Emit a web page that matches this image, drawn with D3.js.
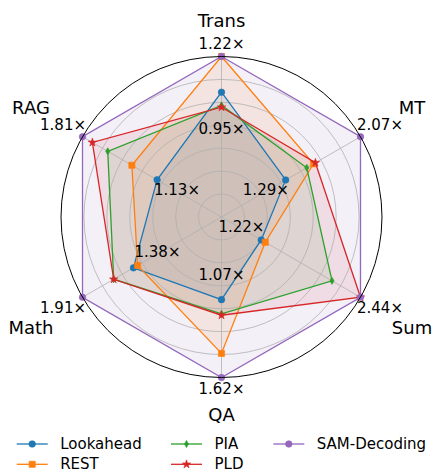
<!DOCTYPE html>
<html>
<head>
<meta charset="utf-8">
<script src="https://cdn.jsdelivr.net/npm/d3@7"></script>
<style>
  html, body { margin: 0; padding: 0; background: #fff; }
  svg { display: block; font-family: "DejaVu Sans", sans-serif; }
</style>
</head>
<body>
<svg id="chart" width="433" height="475"></svg>
<script>
// Speedup of each decoding method on each task
const categories = ["Trans", "MT", "Sum", "QA", "Math", "RAG"];
const seriesNames = ["Lookahead", "REST", "PIA", "PLD", "SAM-Decoding"];
const lookahead   = [1.03, 1.29, 1.22, 1.07, 1.42, 1.13];
const rest        = [1.22, 1.58, 1.27, 1.45, 1.38, 1.36];
const pia         = [0.96, 1.51, 2.09, 1.17, 1.61, 1.58];
const pld         = [0.95, 1.60, 2.44, 1.18, 1.61, 1.72];
const samDecoding = [1.22, 2.07, 2.44, 1.62, 1.91, 1.81];
const seriesValues = [lookahead, rest, pia, pld, samDecoding];
const colors  = ["#1f77b4", "#ff7f0e", "#2ca02c", "#d62728", "#9467bd"];
const markers = ["circle", "square", "diamond", "star", "circle"];

const svg = d3.select("#chart");
const cx = 221.5, cy = 217, R = 160.5;
const g = svg.append("g").attr("transform", `translate(${cx},${cy})`);

// Each task axis is scaled by its best speedup; the radial range is 0.3 .. 1.0 of it
const axisMax = categories.map((c, i) => d3.max(seriesValues, s => s[i]));
const axisMin = categories.map((c, i) => d3.min(seriesValues, s => s[i]));
const rNorm = d3.scaleLinear().domain([0.3, 1]).range([0, R]);
const axisScales = axisMax.map(m => d3.scaleLinear().domain([0.3 * m, m]).range([0, R]));

// Trans at the top, then clockwise
const angle = d3.scaleLinear().domain([0, categories.length]).range([Math.PI / 2, Math.PI / 2 - 2 * Math.PI]);
const pt = (r, i) => [r * Math.cos(angle(i)), -r * Math.sin(angle(i))];
const fmt = v => d3.format(".2f")(v) + "\u00d7";

// Series fills
const line = d3.line();
seriesValues.forEach((vals, s) => {
  const pts = vals.map((v, i) => pt(axisScales[i](v), i));
  g.append("path")
    .attr("d", line(pts) + "Z")
    .attr("fill", colors[s])
    .attr("fill-opacity", 0.1)
    .attr("stroke", "none");
});

// Grid rings and spokes
const grid = g.append("g");
rNorm.ticks(7).filter(t => t > 0.3 + 1e-9 && t < 1 - 1e-9).forEach(t => {
  grid.append("circle").attr("r", rNorm(t))
    .attr("fill", "none").attr("stroke", "#b0b0b0").attr("stroke-width", 0.8);
});
categories.forEach((c, i) => {
  const [x, y] = pt(R, i);
  grid.append("line").attr("x1", 0).attr("y1", 0).attr("x2", x).attr("y2", y)
    .attr("stroke", "#b0b0b0").attr("stroke-width", 0.8);
});

// Series outlines and markers
function marker(sel, type, color) {
  const sym = { circle: d3.symbolCircle, square: d3.symbolSquare, diamond: d3.symbolDiamond, star: d3.symbolStar }[type];
  const size = { circle: 34, square: 38, diamond: 15, star: 22 }[type];
  sel.append("path").attr("d", d3.symbol(sym, size)())
    .attr("fill", color).attr("stroke", color).attr("stroke-width", 0.6);
}
seriesValues.forEach((vals, s) => {
  const pts = vals.map((v, i) => pt(axisScales[i](v), i));
  g.append("path")
    .attr("d", line(pts) + "Z")
    .attr("fill", "none")
    .attr("stroke", colors[s])
    .attr("stroke-width", 1.3);
  pts.forEach(p => {
    const m = g.append("g").attr("transform", `translate(${p[0]},${p[1]})`);
    marker(m, markers[s], colors[s]);
  });
});

// Outer frame
g.append("circle").attr("r", R).attr("fill", "none").attr("stroke", "#000").attr("stroke-width", 1);

// Minimum-speedup labels inside, maximum-speedup labels outside the frame
categories.forEach((c, i) => {
  const rMin = rNorm(axisMin[i] / axisMax[i] - 0.1);
  const [x, y] = pt(rMin, i);
  g.append("text").attr("x", x).attr("y", y - 1.5)
    .attr("text-anchor", "middle").attr("dominant-baseline", "central")
    .attr("font-size", 15).attr("fill", "#000")
    .text(fmt(axisMin[i]));

  const s = Math.abs(Math.sin(angle(i)));
  const [mx, my] = pt(R + 12 + 21 * (1 - s), i);
  g.append("text").attr("x", mx).attr("y", my - 1)
    .attr("text-anchor", "middle").attr("dominant-baseline", "central")
    .attr("font-size", 15).attr("fill", "#000")
    .text(fmt(axisMax[i]));

  const [lx, ly] = pt(R + 36.5 + 46 * (1 - s), i);
  g.append("text").attr("x", lx).attr("y", ly)
    .attr("text-anchor", "middle").attr("dominant-baseline", "central")
    .attr("font-size", 18).attr("fill", "#000")
    .text(c);
});

// Legend: three columns, filled column by column
const legend = svg.append("g");
const colX = [16.7, 171, 273.3];
const rowY = [444, 464.3];
seriesNames.forEach((name, s) => {
  const col = Math.floor(s / 2), row = s % 2;
  const item = legend.append("g").attr("transform", `translate(${colX[col]},${rowY[row]})`);
  item.append("line").attr("x1", 0).attr("x2", 31).attr("y1", 0).attr("y2", 0)
    .attr("stroke", colors[s]).attr("stroke-width", 1.3);
  const m = item.append("g").attr("transform", "translate(15.5,0)");
  marker(m, markers[s], colors[s]);
  item.append("text").attr("x", 43.5).attr("y", 0)
    .attr("dominant-baseline", "central").attr("font-size", 15).attr("fill", "#000")
    .text(name);
});
</script>
</body>
</html>
